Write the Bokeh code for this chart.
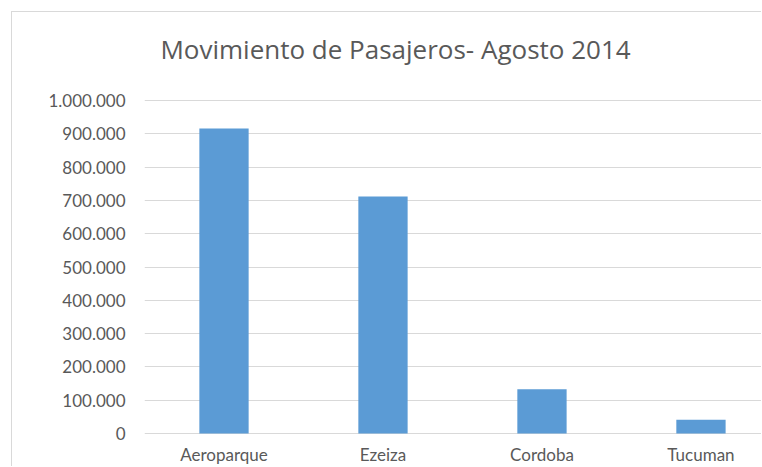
from bokeh.plotting import figure
from bokeh.models import Range1d, FixedTicker, ColumnDataSource
from bokeh.core.properties import value
from bokeh.embed import file_html
from bokeh.resources import INLINE

categories = ["Aeroparque", "Ezeiza", "Cordoba", "Tucuman"]
pasajeros = [916000, 712000, 133000, 41000]
y_ticks = [0, 100000, 200000, 300000, 400000, 500000, 600000, 700000, 800000, 900000, 1000000]
y_tick_labels = ["0", "100.000", "200.000", "300.000", "400.000", "500.000",
                 "600.000", "700.000", "800.000", "900.000", "1.000.000"]
title_text = "Movimiento de Pasajeros- Agosto 2014"

x_pos = [i + 0.5 for i in range(len(categories))]
source = ColumnDataSource(dict(x=x_pos, top=pasajeros, cat=categories))

FONT = "Lato"
GREY = "#595959"
PX = 1000000 / 333.0  # data units per pixel on the value axis

p = figure(width=750, height=455, output_backend="svg", toolbar_location=None,
           x_range=Range1d(0, 3.887), y_range=Range1d(-34 * PX, 1000000 + 88 * PX),
           min_border_left=132, min_border_top=0, min_border_bottom=0, min_border_right=0,
           tools="")
p.margin = (11, 0, 0, 11)
p.styles = {"border-top": "1px solid #d9d9d9", "border-left": "1px solid #d9d9d9"}
p.outline_line_color = None
p.background_fill_color = "white"
p.border_fill_color = "white"

p.vbar(x="x", top="top", width=0.31, source=source, fill_color="#5b9bd5", line_color=None)

# category labels below the zero line
p.text(x="x", y=-21 * PX, text="cat", source=source, text_align="center",
       text_baseline="alphabetic", text_font=value(FONT), text_font_size="17px",
       text_color=GREY)

# chart title
p.text(x=[1.579], y=[1000000 + 52 * PX], text=[title_text], text_align="center",
       text_baseline="alphabetic", text_font=value("Open Sans"), text_font_size="26px",
       text_color=GREY)

p.xgrid.grid_line_color = None
p.ygrid.grid_line_color = "#d9d9d9"
p.ygrid.grid_line_width = 1
p.xaxis.visible = False

p.yaxis.ticker = FixedTicker(ticks=y_ticks)
p.yaxis.major_label_overrides = {t: l for t, l in zip(y_ticks, y_tick_labels)}
ax = p.yaxis[0]
ax.major_tick_line_color = None
ax.minor_tick_line_color = None
ax.axis_line_color = None
ax.major_label_text_font = FONT
ax.major_label_text_font_size = "17px"
ax.major_label_text_color = GREY
ax.major_label_standoff = 13

open("out.html", "w").write(file_html(p, INLINE))
